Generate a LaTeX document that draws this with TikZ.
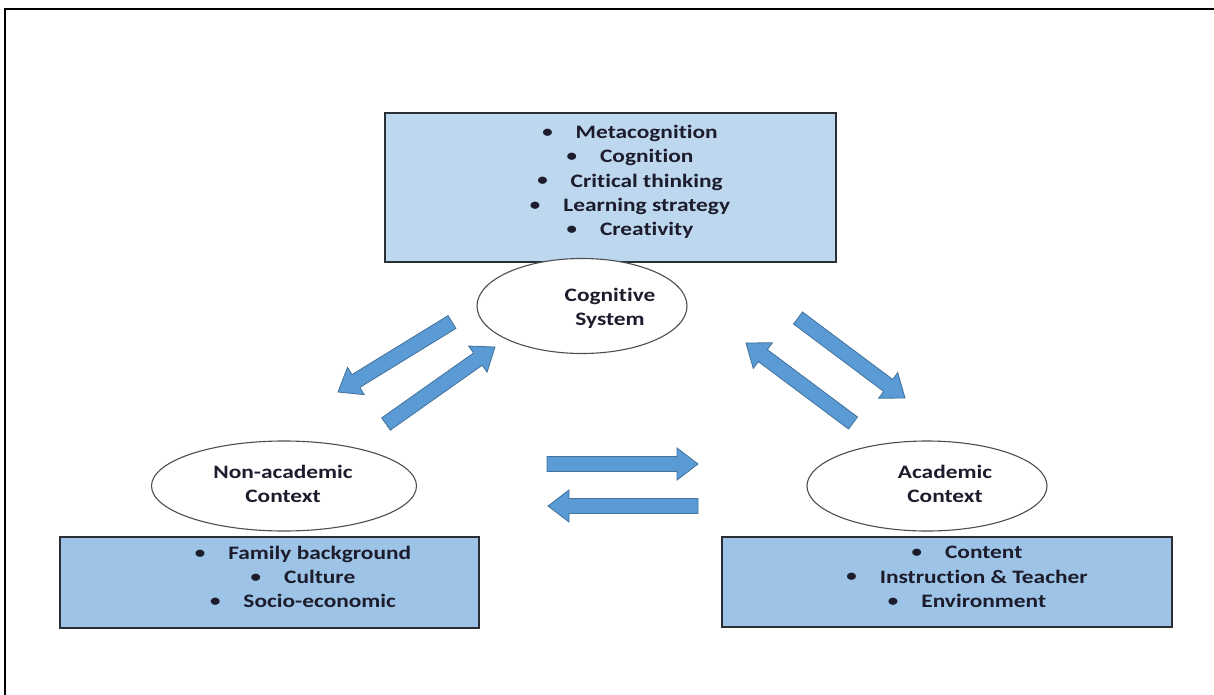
\documentclass[tikz,border=0pt]{standalone}
\usepackage{fontspec}
\setmainfont[FakeStretch=1.23, Ligatures=NoCommon]{Carlito}
\usetikzlibrary{shapes.geometric,calc}
\definecolor{boxlight}{HTML}{BDD7EE}
\definecolor{boxmid}{HTML}{9DC3E6}
\definecolor{arrfill}{HTML}{5B9BD5}
\definecolor{arrline}{HTML}{41719C}
\definecolor{txt}{HTML}{1C1C2C}
\definecolor{edge}{HTML}{2A2F36}
\newcommand\blockarrow[2]{%
  \coordinate (hb) at ($(#2)!21pt!(#1)$);
  \draw[blockarr] ($(#1)!7.5pt!90:(#2)$) -- ($(hb)!7.5pt!90:(#2)$) -- ($(hb)!16pt!90:(#2)$) -- (#2)
     -- ($(hb)!16pt!-90:(#2)$) -- ($(hb)!7.5pt!-90:(#2)$) -- ($(#1)!7.5pt!-90:(#2)$) -- cycle;}
\newcommand\itm{\raisebox{1.2pt}{\fontsize{17}{17}\selectfont•}\hspace{23pt}}
\tikzset{
  box/.style={draw=edge, line width=1.8pt, rectangle, inner sep=0pt},
  oval/.style={draw=edge!85, line width=1.1pt, fill=white, ellipse, inner sep=0pt},
  label/.style={text=txt, align=center, inner sep=0pt, font=\fontsize{19}{24.3}\selectfont\bfseries},
  blockarr/.style={fill=arrfill, draw=arrline, line width=0.8pt, line join=miter},
}
\begin{document}
\begin{tikzpicture}[x=1pt,y=-1pt]
\useasboundingbox (0,0) rectangle (1214,695);
\fill[white] (0,0) rectangle (1214,695);
% frame
\draw[line width=2.5pt, line cap=rect] (5,695) -- (5,9) -- (1214,9);

% boxes
\node[box, fill=boxlight, minimum width=451pt, minimum height=149pt] (cogbox) at (610.5,187.5) {};
\node[box, fill=boxmid, minimum width=419pt, minimum height=91pt] (nonbox) at (269.5,582.5) {};
\node[box, fill=boxmid, minimum width=450pt, minimum height=90pt] (acabox) at (947,582) {};

\node[label] (cogtext) at (630,182) {\itm Metacognition\\ \itm Cognition\\ \itm Critical thinking\\ \itm Learning strategy\\ \itm Creativity};
\node[label] (nontext) at (303,577) {\itm Family background\\ \itm Culture\\ \itm Socio-economic};
\node[label] (acatext) at (967,577) {\itm Content\\ \itm Instruction \& Teacher\\ \itm Environment};

% ellipses
\node[oval, minimum width=210pt, minimum height=95pt] (cog) at (582,306) {};
\node[label] (cogl) at (610,308) {Cognitive\\System};
\node[oval, minimum width=265pt, minimum height=90pt] (non) at (284,486) {};
\node[label] (nonl) at (283,484) {Non-academic\\Context};
\node[oval, minimum width=240pt, minimum height=90pt] (aca) at (927,486) {};
\node[label] (acal) at (945,484) {Academic\\Context};

% arrow end points
\coordinate (a1s) at (452,322); \coordinate (a1e) at (338,392);
\coordinate (a2s) at (386,424); \coordinate (a2e) at (495,347);
\coordinate (a3s) at (798,318); \coordinate (a3e) at (905,398);
\coordinate (a4s) at (853,423); \coordinate (a4e) at (746,343);
\coordinate (a5s) at (547,464); \coordinate (a5e) at (698,464);
\coordinate (a6s) at (698,506); \coordinate (a6e) at (548,506);

\blockarrow{a1s}{a1e}
\blockarrow{a2s}{a2e}
\blockarrow{a3s}{a3e}
\blockarrow{a4s}{a4e}
\blockarrow{a5s}{a5e}
\blockarrow{a6s}{a6e}
\end{tikzpicture}
\end{document}
